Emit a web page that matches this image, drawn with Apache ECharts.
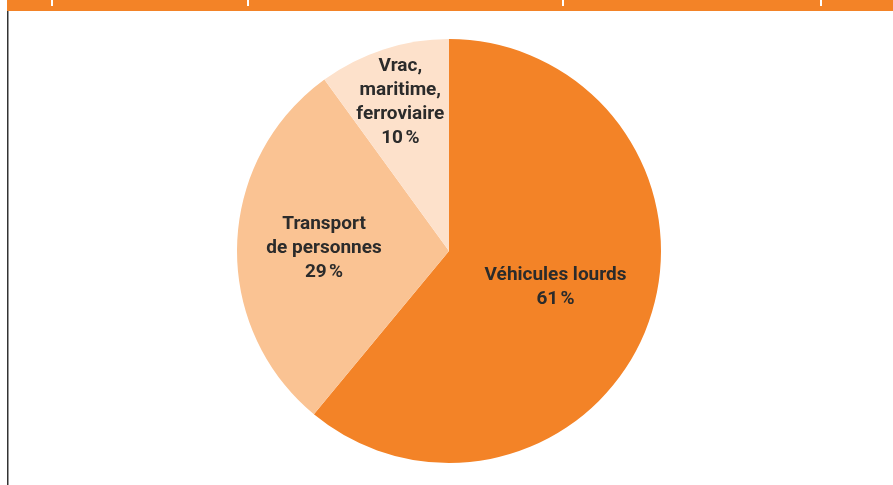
<!DOCTYPE html>
<html>
<head>
<meta charset="utf-8">
<script src="https://cdn.jsdelivr.net/npm/echarts@6/dist/echarts.min.js"></script>
<style>html,body{margin:0;padding:0;background:#fff}#c{width:893px;height:485px}</style>
</head>
<body>
<div id="c"></div>
<script>
const categories = ['Véhicules lourds', 'Transport\nde personnes', 'Vrac,\nmaritime,\nferroviaire'];
const values = [61, 29, 10];
const colors = ['#F38327', '#FAC393', '#FDE1CB'];
const labelShift = [[4, -1], [-16, 1], [-15, -45]];

const chart = echarts.init(document.getElementById('c'));
chart.setOption({
  animation: false,
  graphic: [
    {type: 'rect', shape: {x: 7, y: 0, width: 886, height: 11}, style: {fill: '#F38327'}},
    {type: 'rect', shape: {x: 51, y: 0, width: 2, height: 6}, style: {fill: '#fff'}},
    {type: 'rect', shape: {x: 247, y: 0, width: 2, height: 6}, style: {fill: '#fff'}},
    {type: 'rect', shape: {x: 562, y: 0, width: 2, height: 6}, style: {fill: '#fff'}},
    {type: 'rect', shape: {x: 820, y: 0, width: 2, height: 6}, style: {fill: '#fff'}},
    {type: 'rect', shape: {x: 7, y: 11, width: 1.5, height: 474}, style: {fill: '#333'}}
  ],
  series: [{
    type: 'pie',
    center: [449, 251],
    radius: [0, 212],
    startAngle: 90,
    clockwise: true,
    silent: true,
    itemStyle: {borderWidth: 0},
    label: {
      show: true,
      position: 'inside',
      color: '#2b2b2b',
      fontFamily: 'Roboto, sans-serif',
      fontWeight: 'bold',
      fontSize: 19,
      lineHeight: 24,
      align: 'center',
      formatter: p => p.name + '\n' + p.value + '\u202f%'
    },
    labelLine: {show: false},
    labelLayout: p => ({dx: labelShift[p.dataIndex][0], dy: labelShift[p.dataIndex][1]}),
    data: categories.map((c, i) => ({name: c, value: values[i], itemStyle: {color: colors[i]}}))
  }]
});
</script>
</body>
</html>
